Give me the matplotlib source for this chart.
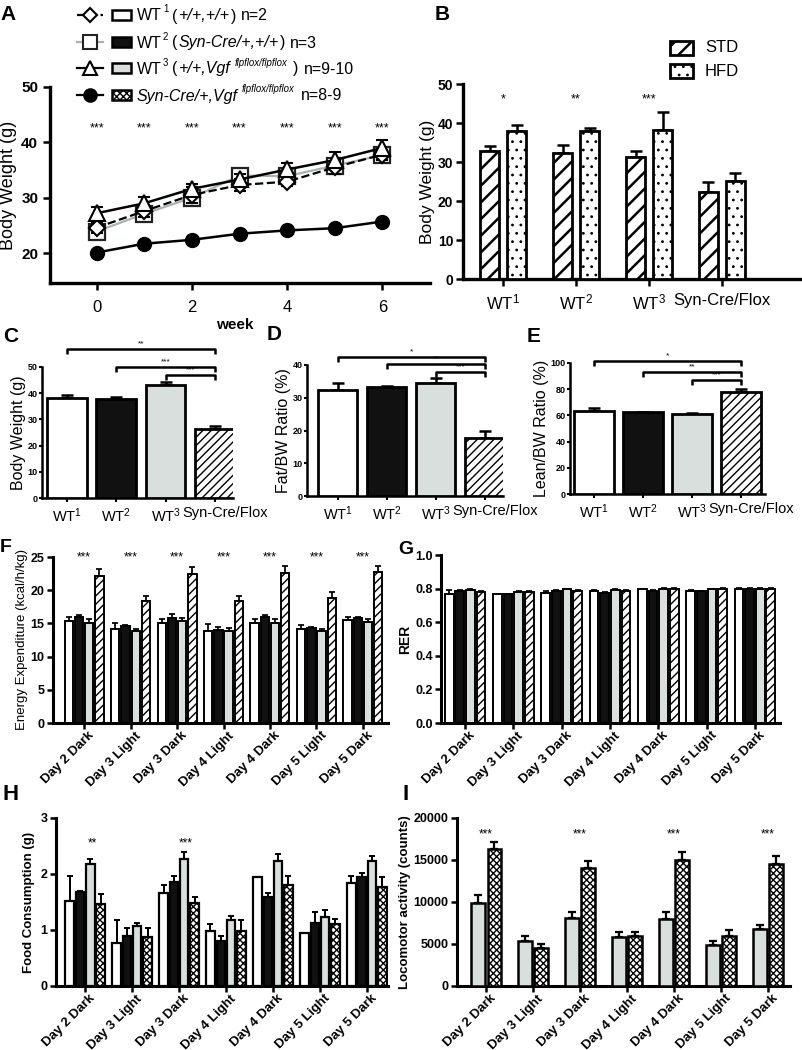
import numpy as np
import matplotlib
matplotlib.use('Agg')
import matplotlib.pyplot as plt
from matplotlib.transforms import IdentityTransform, ScaledTranslation
from matplotlib.patches import Rectangle
from matplotlib.lines import Line2D

# ---------------- data ----------------
weeks = [0, 1, 2, 3, 4, 5, 6]
a_wt1 = [24.6, 27.6, 30.5, 32.3, 32.9, 35.5, 37.8]
a_wt1_err = [0.9, 1.0, 1.4, 1.1, 0.8, 1.2, 0.9]
a_wt2 = [23.9, 27.1, 30.0, 34.0, 33.9, 35.8, 37.7]
a_wt2_err = [0.8, 0.8, 0.8, 0.8, 0.8, 0.8, 0.8]
a_wt3 = [27.2, 29.0, 31.6, 33.3, 35.1, 36.8, 39.0]
a_wt3_err = [1.1, 1.2, 0.9, 0.9, 1.2, 1.4, 1.5]
a_syn = [20.1, 21.7, 22.4, 23.5, 24.1, 24.5, 25.7]
a_syn_err = [0.3, 0.3, 0.3, 0.3, 0.3, 0.3, 0.3]
a_stars = ['***'] * 7

groups = ['WT$^1$', 'WT$^2$', 'WT$^3$', 'Syn-Cre/Flox']
b_std = [32.8, 32.2, 31.4, 22.3]
b_std_err = [1.2, 2.2, 1.3, 2.6]
b_hfd = [38.0, 37.9, 38.3, 25.1]
b_hfd_err = [1.6, 0.9, 4.5, 2.1]
b_stars = ['*', '**', '***', '']

c_bw = [38.2, 37.9, 43.0, 26.5]
c_err = [1.0, 0.5, 1.2, 1.0]
d_fat = [32.3, 33.4, 34.5, 17.7]
d_err = [2.3, 0.3, 1.6, 2.3]
e_lean = [63.5, 62.5, 61.2, 78.2]
e_err = [2.3, 0.4, 1.0, 2.0]
sig_labels = ['*', '**', '***']
c_sig_labels = ['**', '***', '***']

days = ['Day 2 Dark', 'Day 3 Light', 'Day 3 Dark', 'Day 4 Light',
        'Day 4 Dark', 'Day 5 Light', 'Day 5 Dark']
f_wt1 = [15.3, 14.2, 15.1, 13.9, 15.1, 14.1, 15.5]
f_wt1_err = [0.6, 0.9, 0.5, 1.0, 0.5, 0.6, 0.5]
f_wt2 = [15.9, 14.6, 15.8, 14.0, 15.9, 14.3, 15.8]
f_wt2_err = [0.4, 0.2, 0.6, 0.4, 0.4, 0.1, 0.2]
f_wt3 = [15.1, 13.8, 15.3, 13.9, 15.1, 13.8, 15.2]
f_wt3_err = [0.5, 0.3, 0.5, 0.4, 0.5, 0.3, 0.5]
f_syn = [22.2, 18.3, 22.4, 18.3, 22.6, 18.8, 22.7]
f_syn_err = [1.0, 0.9, 1.1, 0.9, 1.1, 1.0, 1.0]
f_stars = ['***'] * 7

g_wt1 = [0.770, 0.765, 0.775, 0.785, 0.795, 0.785, 0.800]
g_wt1_err = [0.020, 0.005, 0.012, 0.005, 0.005, 0.004, 0.005]
g_wt2 = [0.785, 0.765, 0.785, 0.775, 0.785, 0.785, 0.800]
g_wt2_err = [0.004, 0.003, 0.004, 0.003, 0.004, 0.003, 0.004]
g_wt3 = [0.790, 0.780, 0.795, 0.790, 0.800, 0.795, 0.800]
g_wt3_err = [0.005, 0.004, 0.005, 0.005, 0.005, 0.004, 0.004]
g_syn = [0.780, 0.780, 0.785, 0.785, 0.800, 0.800, 0.800]
g_syn_err = [0.006, 0.005, 0.006, 0.006, 0.005, 0.006, 0.005]

h_wt1 = [1.52, 0.77, 1.66, 0.99, 1.94, 0.94, 1.84]
h_wt1_err = [0.44, 0.40, 0.15, 0.12, 0.0, 0.0, 0.13]
h_wt2 = [1.68, 0.90, 1.86, 0.81, 1.59, 1.12, 1.94]
h_wt2_err = [0.02, 0.13, 0.11, 0.08, 0.07, 0.20, 0.07]
h_wt3 = [2.17, 1.07, 2.26, 1.17, 2.23, 1.23, 2.23]
h_wt3_err = [0.10, 0.06, 0.14, 0.08, 0.12, 0.12, 0.10]
h_syn = [1.47, 0.87, 1.49, 0.98, 1.81, 1.10, 1.77]
h_syn_err = [0.18, 0.17, 0.10, 0.19, 0.16, 0.09, 0.17]
h_stars = ['**', '', '***', '', '', '', '']

i_wt3 = [9900, 5300, 8100, 5800, 8000, 4900, 6800]
i_wt3_err = [900, 600, 700, 600, 800, 400, 500]
i_syn = [16300, 4500, 14100, 6000, 15000, 6000, 14500]
i_syn_err = [800, 500, 800, 400, 900, 700, 1000]
i_stars = ['***', '', '***', '', '***', '', '***']

# ---------------- style ----------------
plt.rcParams['font.family'] = ['Liberation Sans', 'DejaVu Sans']
plt.rcParams['mathtext.fontset'] = 'custom'
plt.rcParams['mathtext.rm'] = 'Liberation Sans'
plt.rcParams['mathtext.it'] = 'Liberation Sans:italic'
plt.rcParams['mathtext.bf'] = 'Liberation Sans:bold'
plt.rcParams['hatch.linewidth'] = 1.0

GRAY = '#d8dfdc'
BLACKF = '#111111'
W, H = 803, 1050
fig = plt.figure(figsize=(W / 100, H / 100), dpi=100)


def add_ax(l, t, r, b):
    return fig.add_axes([l / W, 1 - b / H, (r - l) / W, (b - t) / H])


def style_ax(ax, lw=2.2, tl=4, tw=1.6):
    for s in ['top', 'right']:
        ax.spines[s].set_visible(False)
    for s in ['left', 'bottom']:
        ax.spines[s].set_linewidth(lw)
    ax.tick_params(direction='out', length=tl, width=tw)


def bars(ax, x, vals, errs, width, fc, hatch=None, lw=1.6, cap=2.5, hlw=None):
    with plt.rc_context({'hatch.linewidth': hlw if hlw else 1.0}):
        bc = ax.bar(x, vals, width, color=fc, edgecolor='k', hatch=hatch,
                    linewidth=lw, zorder=3)
    if hlw:
        for p in bc:
            try:
                p.set_hatch_linewidth(hlw)
            except AttributeError:
                pass
    ax.errorbar(x, vals, yerr=[np.zeros(len(vals)), errs], fmt='none',
                ecolor='k', elinewidth=lw * 0.9, capsize=cap,
                capthick=lw * 0.9, zorder=2)


def panel_label(x, y, s, size):
    fig.text(x / W, 1 - y / H, s, fontsize=size, fontweight='bold',
             ha='left', va='center')


# ---------------- Panel A ----------------
axA = add_ax(50, 87, 430, 283)
style_ax(axA, lw=2.4, tl=5, tw=1.8)
axA.errorbar(weeks, a_wt2, yerr=a_wt2_err, color='#a9b3b0', lw=1.6,
             marker='s', ms=11, mfc='white', mec='#222222', mew=1.6,
             capsize=4, elinewidth=1.4, capthick=1.4, zorder=3)
axA.errorbar(weeks, a_wt1, yerr=a_wt1_err, color='k', lw=1.6, ls='--',
             marker='D', ms=8, mfc='white', mec='k', mew=1.5,
             capsize=4, elinewidth=1.4, capthick=1.4, zorder=4)
axA.errorbar(weeks, a_wt3, yerr=a_wt3_err, color='k', lw=1.8,
             marker='^', ms=11, mfc='white', mec='k', mew=1.5,
             capsize=4, elinewidth=1.4, capthick=1.4, zorder=5)
axA.errorbar(weeks, a_syn, yerr=a_syn_err, color='k', lw=1.8,
             marker='o', ms=10, mfc='k', mec='k',
             capsize=3, elinewidth=1.4, capthick=1.4, zorder=6)
for wk, s in zip(weeks, a_stars):
    axA.text(wk, 42.6, s, ha='center', va='center', fontsize=9)
axA.set_xlim(-0.98, 7.0)
axA.set_ylim(14.6, 50)
axA.set_yticks([20, 30, 40, 50])
axA.set_xticks([0, 2, 4, 6])
axA.tick_params(axis='y', labelsize=11)
axA.tick_params(axis='x', labelsize=12, pad=7)
for t in axA.get_yticklabels():
    t.set_fontweight('bold')
axA.set_ylabel('Body Weight (g)', fontsize=13, labelpad=3)
fig.text(235 / W, 1 - 325 / H, 'week', fontsize=11, fontweight='bold',
         ha='center', va='center')

# legend of A (figure overlay, pixel coordinates)
ov = fig.add_axes([0, 0, 1, 1], zorder=10)
ov.set_xlim(0, W)
ov.set_ylim(H, 0)
ov.axis('off')
leg_rows = [15, 42, 68, 95]
leg_lines = [dict(color='k', ls='--', marker='D', ms=7, mfc='white', mec='k'),
             dict(color='#a9b3b0', ls='-', marker='s', ms=10, mfc='white', mec='#222222'),
             dict(color='k', ls='-', marker='^', ms=10, mfc='white', mec='k'),
             dict(color='k', ls='-', marker='o', ms=9, mfc='k', mec='k')]
leg_patches = [('white', None), (BLACKF, None), (GRAY, None), ('white', 'xxxxx')]
for yy, lk, (pc, ph) in zip(leg_rows, leg_lines, leg_patches):
    ov.add_line(Line2D([77, 90, 103], [yy, yy, yy], lw=1.6, mew=1.5,
                       markevery=[1], **lk))
    ov.add_patch(Rectangle((112, yy - 5), 19, 10, facecolor=pc, edgecolor='k',
                           hatch=ph, lw=1.8))

renderer = fig.canvas.get_renderer()


def rich(x, ybase, pieces, size=11.5):
    for text, kind, gap in pieces:
        x += gap
        kw = dict(fontsize=size)
        dy = 0
        if 'i' in kind:
            kw['style'] = 'italic'
        if 's' in kind:
            kw['fontsize'] = size * 0.6
            dy = 8
        t = fig.text(x, H - ybase + dy, text, transform=IdentityTransform(),
                     ha='left', va='baseline', **kw)
        x += t.get_window_extent(renderer=renderer).width


leg_texts = [
    [('WT', '', 0), ('1', 's', 1), ('(', '', 4), ('+/+,+/+', 'i', 1), (')', '', 1), ('n=2', '', 5)],
    [('WT', '', 0), ('2', 's', 1), ('(', '', 4), ('Syn-Cre/+,+/+', 'i', 1), (')', '', 1), ('n=3', '', 5)],
    [('WT', '', 0), ('3', 's', 1), ('(', '', 4), ('+/+,Vgf', 'i', 1), ('flpflox/flpflox', 'is', 4),
     (')', '', 6), ('n=9-10', '', 5)],
    [('Syn-Cre/+,Vgf', 'i', 0), ('flpflox/flpflox', 'is', 4), ('n=8-9', '', 6)],
]
for yy, pcs in zip(leg_rows, leg_texts):
    rich(137, yy + 5.5, pcs)

# ---------------- Panel B ----------------
axB = add_ax(463, 84, 800, 279)
style_ax(axB, lw=2.4, tl=5, tw=1.8)
xb = np.arange(len(groups))
bars(axB, xb - 0.185, b_std, b_std_err, 0.26, 'white', '//', lw=2.0, cap=4, hlw=1.8)
bars(axB, xb + 0.185, b_hfd, b_hfd_err, 0.26, 'white', '..', lw=2.0, cap=4, hlw=0.8)
for xx, s in zip(xb, b_stars):
    axB.text(xx, 46.0, s, ha='center', va='center', fontsize=9)
axB.set_xlim(-0.55, 4.07)
axB.set_ylim(0, 50)
axB.set_yticks([0, 10, 20, 30, 40, 50])
axB.set_xticks(xb)
axB.set_xticklabels(groups, fontsize=12)
axB.tick_params(axis='x', pad=5)
axB.tick_params(axis='y', labelsize=10, pad=2)
for t in axB.get_yticklabels():
    t.set_fontweight('bold')
axB.set_ylabel('Body Weight (g)', fontsize=12.5, labelpad=2)
with plt.rc_context({'hatch.linewidth': 1.8}):
    rb1 = Rectangle((670, 41), 23, 14, facecolor='white', edgecolor='k', hatch='//', lw=2)
ov.add_patch(rb1)
with plt.rc_context({'hatch.linewidth': 0.8}):
    rb2 = Rectangle((670, 64), 23, 14, facecolor='white', edgecolor='k', hatch='..', lw=2)
ov.add_patch(rb2)
ov.text(705, 48, 'STD', fontsize=12, va='center', ha='left')
ov.text(705, 71, 'HFD', fontsize=12, va='center', ha='left')

# ---------------- Panels C, D, E ----------------
cde_styles = [('white', None), (BLACKF, None), (GRAY, None), ('white', '////')]


def cde_panel(box, vals, errs, ylim, yticks, ylabel, xlim, sig_levels, labels):
    ax = add_ax(*box)
    style_ax(ax, lw=1.8, tl=3, tw=1.5)
    x = np.arange(len(groups))
    for xi, v, e, (fc, hh) in zip(x, vals, errs, cde_styles):
        bars(ax, [xi], [v], [e], 0.8, fc, hh, lw=2.0, cap=4)
    ax.set_xlim(*xlim)
    ax.set_ylim(*ylim)
    ax.set_yticks(yticks)
    ax.set_xticks(x)
    ax.tick_params(axis='x', pad=3)
    ax.tick_params(axis='y', labelsize=6.5, pad=1, length=2)
    ax.set_xticklabels(groups, fontsize=10.5)
    last = ax.get_xticklabels()[-1]
    last.set_transform(last.get_transform() +
                       ScaledTranslation(10 / 100, 0, fig.dpi_scale_trans))
    for t in ax.get_yticklabels():
        t.set_fontweight('bold')
    ax.set_ylabel(ylabel, fontsize=11.5, labelpad=1)
    drop = (ylim[1] - ylim[0]) * 5 / (box[3] - box[1])
    for start, lvl, lab in zip([0, 1, 2], sig_levels, labels):
        ax.plot([start, start, 3, 3], [lvl - drop, lvl, lvl, lvl - drop],
                color='k', lw=1.8, clip_on=False, zorder=5,
                solid_capstyle='butt')
        ax.text((start + 3) / 2, lvl + drop * 0.3, lab, ha='center',
                va='bottom', fontsize=6)
    return ax


cde_panel((42, 367, 233, 498), c_bw, c_err, (0, 50), [0, 10, 20, 30, 40, 50],
          'Body Weight (g)', (-0.5, 3.36), [56.9, 50.0, 47.0], c_sig_labels)
cde_panel((307, 365, 503, 496), d_fat, d_err, (0, 40), [0, 10, 20, 30, 40],
          'Fat/BW Ratio (%)', (-0.63, 3.37), [42.5, 40.3, 38.0], sig_labels)
cde_panel((570, 363, 765, 494), e_lean, e_err, (0, 100), [0, 20, 40, 60, 80, 100],
          'Lean/BW Ratio (%)', (-0.49, 3.49), [101.5, 93.0, 87.0], sig_labels)

# ---------------- Panels F, G, H, I ----------------
def day_axes(ax, xlim):
    ax.set_xlim(*xlim)
    ax.set_xticks(np.arange(len(days)))
    ax.tick_params(axis='x', pad=0)
    ax.tick_params(axis='y', labelsize=9, pad=2)
    ax.set_xticklabels(days, rotation=45, ha='right', rotation_mode='anchor',
                       fontsize=9.5, fontweight='bold')
    off = ScaledTranslation(4 / 100, -1 / 100, fig.dpi_scale_trans)
    for t in ax.get_xticklabels():
        t.set_transform(t.get_transform() + off)
    for t in ax.get_yticklabels():
        t.set_fontweight('bold')


four = [('white', None), (BLACKF, None), (GRAY, None), ('white', '////')]
xd = np.arange(len(days))
stride, bw = 0.22, 0.18

axF = add_ax(53, 557, 388, 723)
style_ax(axF, lw=2.2, tl=4, tw=1.8)
for k, (vals, errs) in enumerate([(f_wt1, f_wt1_err), (f_wt2, f_wt2_err),
                                  (f_wt3, f_wt3_err), (f_syn, f_syn_err)]):
    bars(axF, xd + (k - 1.5) * stride, vals, errs, bw, four[k][0], four[k][1],
         lw=1.4, cap=2.2)
for xx, s in zip(xd, f_stars):
    axF.text(xx, 25, s, ha='center', va='center', fontsize=8.5, clip_on=False)
axF.set_ylim(0, 25)
axF.set_yticks([0, 5, 10, 15, 20, 25])
day_axes(axF, (-0.67, 6.54))
axF.set_ylabel('Energy Expenditure (kcal/h/kg)', fontsize=9.5, labelpad=2)

axG = add_ax(441, 555, 780, 723)
style_ax(axG, lw=2.2, tl=4, tw=1.8)
for k, (vals, errs) in enumerate([(g_wt1, g_wt1_err), (g_wt2, g_wt2_err),
                                  (g_wt3, g_wt3_err), (g_syn, g_syn_err)]):
    bars(axG, xd + (k - 1.5) * stride, vals, errs, bw, four[k][0], four[k][1],
         lw=1.4, cap=2.2)
axG.set_ylim(0, 1.0)
axG.set_yticks([0, 0.2, 0.4, 0.6, 0.8, 1.0])
axG.set_yticklabels(['0.0', '0.2', '0.4', '0.6', '0.8', '1.0'])
day_axes(axG, (-0.5, 6.52))
axG.set_ylabel('RER', fontsize=10, fontweight='bold', labelpad=2)

fourH = [('white', None), (BLACKF, None), (GRAY, None), ('white', 'xxxxx')]
axH = add_ax(56, 818, 388, 986)
style_ax(axH, lw=2.2, tl=4, tw=1.8)
for k, (vals, errs) in enumerate([(h_wt1, h_wt1_err), (h_wt2, h_wt2_err),
                                  (h_wt3, h_wt3_err), (h_syn, h_syn_err)]):
    bars(axH, xd + (k - 1.5) * stride, vals, errs, bw, fourH[k][0], fourH[k][1],
         lw=1.6, cap=2.2)
for xx, s in zip(xd, h_stars):
    axH.text(xx + 0.15, 2.55, s, ha='center', va='center', fontsize=8.5)
axH.set_ylim(0, 3)
axH.set_yticks([0, 1, 2, 3])
day_axes(axH, (-0.62, 6.45))
axH.set_ylabel('Food Consumption (g)', fontsize=9.5, fontweight='bold', labelpad=4)

axI = add_ax(457, 818, 790, 986)
style_ax(axI, lw=2.2, tl=4, tw=1.8)
bars(axI, xd - 0.175, i_wt3, i_wt3_err, 0.29, GRAY, None, lw=1.8, cap=3)
bars(axI, xd + 0.175, i_syn, i_syn_err, 0.29, 'white', 'xxxxx', lw=1.8, cap=3)
for xx, s in zip(xd, i_stars):
    axI.text(xx, 18000, s, ha='center', va='center', fontsize=8.5)
axI.set_ylim(0, 20000)
axI.set_yticks([0, 5000, 10000, 15000, 20000])
day_axes(axI, (-0.62, 6.47))
axI.set_ylabel('Locomotor activity (counts)', fontsize=9.5, fontweight='bold', labelpad=2)

# ---------------- panel letters ----------------
panel_label(0, 15, 'A', 15)
panel_label(435, 15, 'B', 15)
panel_label(3, 337, 'C', 15)
panel_label(267, 334, 'D', 15)
panel_label(527, 336, 'E', 15)
panel_label(0, 547, 'F', 14)
panel_label(398, 550, 'G', 14)
panel_label(2, 795, 'H', 16)
panel_label(403, 795, 'I', 16)

fig.savefig('out.png', dpi=100)
